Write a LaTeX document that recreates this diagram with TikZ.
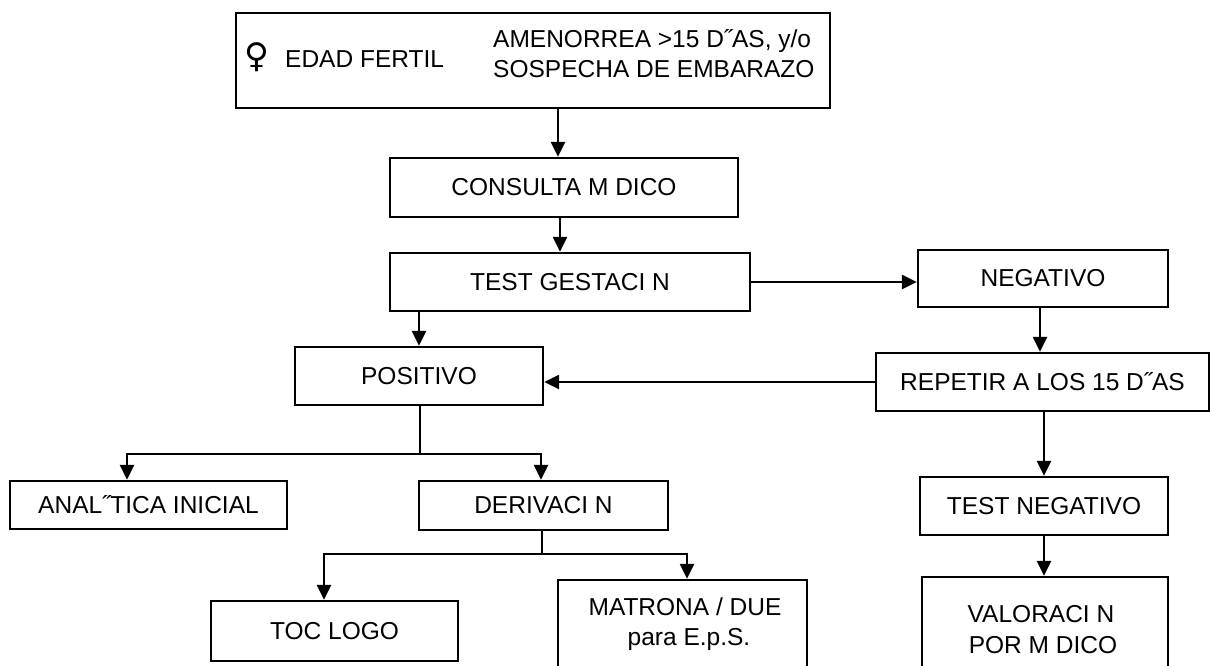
\documentclass[tikz,border=0pt]{standalone}
\usepackage{fontspec}
\setmainfont{Liberation Sans}
\newfontfamily\symfont{DejaVu Sans}
\usetikzlibrary{arrows.meta}
\begin{document}
\begin{tikzpicture}[x=1pt,y=-1pt,
  font=\fontsize{24.5}{29.4}\selectfont,
  box/.style={draw, line width=2.3pt, rectangle, inner sep=0pt},
  lbl/.style={inner sep=0pt},
  link/.style={line width=2.3pt},
  arr/.style={line width=2.3pt, -{Triangle[length=15pt,width=14pt]}}]
\useasboundingbox (0,0) rectangle (1210,666);
\fill[white] (0,0) rectangle (1210,666);
\clip (0,0) rectangle (1210,666);

% header box with its two texts
\node[box, minimum width=594, minimum height=95] (start) at (533,60.5) {};
\node[lbl, anchor=base west] (who) at (244,68)
  {\makebox[41pt][l]{\symfont\fontsize{34}{36}\selectfont ♀}EDAD FERTIL};
\node[lbl, anchor=base west] (why1) at (493,48) {AMENORREA >15 D˝AS, y/o};
\node[lbl, anchor=base west] (why2) at (493,78) {SOSPECHA DE EMBARAZO};

% main flow
\node[box, minimum width=348, minimum height=59] (consulta) at (564,187.5) {CONSULTA M DICO};
\node[box, minimum width=360, minimum height=58] (test) at (570,282) {TEST GESTACI N};
\node[box, minimum width=250, minimum height=57] (negativo) at (1043,278.5) {NEGATIVO};
\node[box, minimum width=333, minimum height=58] (repetir) at (1042.5,382) {REPETIR A LOS 15 D˝AS};
\node[box, minimum width=248, minimum height=58] (positivo) at (419,376) {POSITIVO};
\node[box, minimum width=277, minimum height=48] (analitica) at (148.5,505) {ANAL˝TICA INICIAL};
\node[box, minimum width=249, minimum height=49] (derivacion) at (543.5,505.5) {DERIVACI N};
\node[box, minimum width=248, minimum height=58] (testneg) at (1044,506) {TEST NEGATIVO};
\node[box, minimum width=247, minimum height=60] (tocologo) at (334.5,631) {TOC LOGO};

% bottom boxes running past the lower edge
\node[box, minimum width=249, minimum height=130] (matrona) at (682.5,645) {};
\node[lbl, anchor=base] (matrona1) at (685,615) {MATRONA / DUE};
\node[lbl, anchor=base] (matrona2) at (689,645) {para E.p.S.};
\node[box, minimum width=246, minimum height=130] (valoracion) at (1045,642) {};
\node[lbl, anchor=base] (valoracion1) at (1041,622) {VALORACI N};
\node[lbl, anchor=base] (valoracion2) at (1043,653) {POR M DICO};

% connectors
\draw[arr] ([xshift=-6]consulta.north |- start.south) -- ([xshift=-6]consulta.north);
\draw[arr] ([xshift=-4]consulta.south) -- ([xshift=-4]consulta.south |- test.north);
\draw[arr] (test.east) -- (test.east -| negativo.west);
\draw[arr] ([xshift=-3]negativo.south) -- ([xshift=-3]negativo.south |- repetir.north);
\draw[arr] (positivo.north |- test.south) -- (positivo.north);
\draw[arr] (repetir.west) -- (repetir.west -| positivo.east);

\coordinate (fork1) at (420,454);
\draw[link] (positivo.south -| fork1) -- (fork1);
\draw[arr] (fork1) -| ([xshift=-21.5]analitica.north);
\draw[arr] (fork1) -| ([xshift=-2.5]derivacion.north);

\coordinate (fork2) at (542,554);
\draw[link] (derivacion.south -| fork2) -- (fork2);
\draw[arr] (fork2) -| ([xshift=-10.5]tocologo.north);
\draw[arr] (fork2) -| ([xshift=4.5]matrona.north);

\draw[arr] (repetir.south -| testneg.north) -- (testneg.north);
\draw[arr] (testneg.south) -- (testneg.south |- valoracion.north);
\end{tikzpicture}
\end{document}
